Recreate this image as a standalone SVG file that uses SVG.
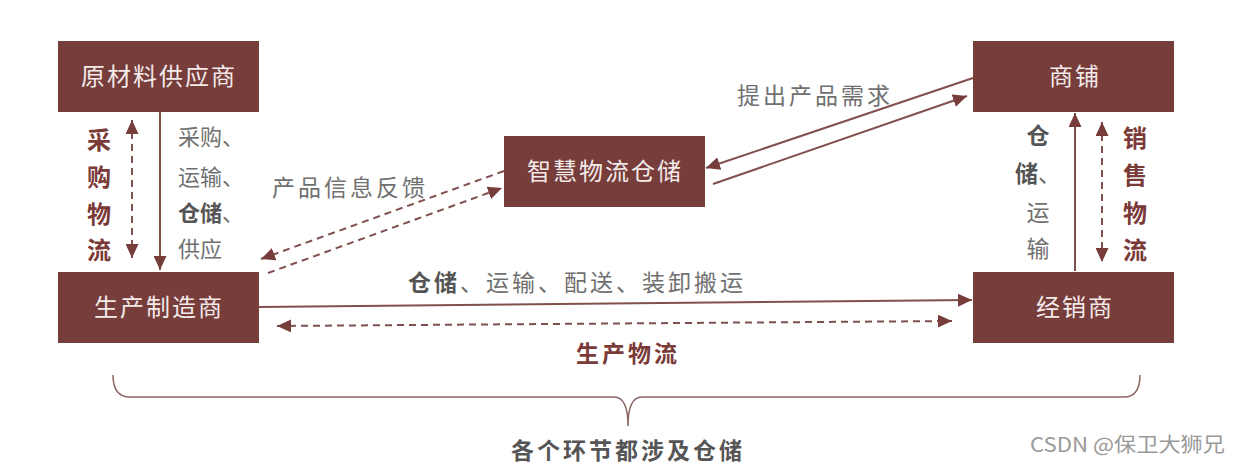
<svg xmlns="http://www.w3.org/2000/svg" width="1240" height="464" viewBox="0 0 1240 464">
<style>
text{font-family:"Noto Sans CJK SC","Noto Sans",sans-serif;}
.box{fill:#763d3a;}
.bt{fill:#f3eaea;font-size:24px;letter-spacing:2px;text-anchor:middle;}
.g{fill:#707070;font-size:23px;letter-spacing:3px;}
.gb{fill:#555;font-weight:bold;}
.red{fill:#7a3a37;font-weight:bold;font-size:24px;}
.ln{stroke:#80504d;stroke-width:2;fill:none;}
.ds{stroke-dasharray:7 5;}
</style>
<defs>
<marker id="ah" markerUnits="userSpaceOnUse" markerWidth="15" markerHeight="13" refX="14" refY="6.5" orient="auto-start-reverse">
<path d="M0,0 L14,6.5 L0,13 z" fill="#763d3a"/>
</marker>
</defs>
<rect width="1240" height="464" fill="#ffffff"/>
<g id="connectors">
<path class="ln" d="M160,112 L160,270" marker-end="url(#ah)"/>
<path class="ln ds" d="M132,120 L132,258" marker-start="url(#ah)" marker-end="url(#ah)"/>
<path class="ln ds" d="M504,171 L261,259" marker-end="url(#ah)"/>
<path class="ln ds" d="M268,273 L502,188" marker-end="url(#ah)"/>
<path class="ln" d="M973,78 L706,168" marker-end="url(#ah)"/>
<path class="ln" d="M713,184 L967,96" marker-end="url(#ah)"/>
<path class="ln" d="M1075,271 L1075,113" marker-end="url(#ah)"/>
<path class="ln ds" d="M1102,122 L1102,262" marker-start="url(#ah)" marker-end="url(#ah)"/>
<path class="ln" d="M259,307 L972,300" marker-end="url(#ah)"/>
<path class="ln ds" d="M277,326 L952,321" marker-start="url(#ah)" marker-end="url(#ah)"/>
<path d="M113,375 Q113,397 130,397 L614,397 Q628,397 628,426 Q628,397 642,397 L1124,397 Q1140,397 1140,375" fill="none" stroke="#8a6664" stroke-width="1.5"/>
</g>
<g id="n-raw">
<rect class="box" x="58" y="41" width="201" height="71"/>
<text class="bt" x="159" y="85">原材料供应商</text>
</g>
<g id="n-maker">
<rect class="box" x="58" y="272" width="201" height="71"/>
<text class="bt" x="159" y="316">生产制造商</text>
</g>
<g id="n-smart">
<rect class="box" x="504" y="136" width="201" height="71"/>
<text class="bt" x="605" y="180">智慧物流仓储</text>
</g>
<g id="n-shop">
<rect class="box" x="973" y="41" width="201" height="71"/>
<text class="bt" x="1075" y="85">商铺</text>
</g>
<g id="n-dealer">
<rect class="box" x="973" y="272" width="201" height="71"/>
<text class="bt" x="1075" y="316">经销商</text>
</g>
<g id="labels">
<text class="red" text-anchor="middle"><tspan x="99" y="149">采</tspan><tspan x="99" y="186">购</tspan><tspan x="99" y="223">物</tspan><tspan x="99" y="259">流</tspan></text>
<text class="g" style="font-size:22px;letter-spacing:0"><tspan x="178" y="145">采购、</tspan><tspan x="178" y="185">运输、</tspan><tspan x="178" y="221"><tspan class="gb">仓储</tspan>、</tspan><tspan x="178" y="257">供应</tspan></text>
<text class="g" x="272" y="196">产品信息反馈</text>
<text class="g" x="737" y="104">提出产品需求</text>
<text class="g" x="408" y="291"><tspan class="gb">仓储</tspan>、运输、配送、装卸搬运</text>
<text class="red" x="576" y="362" style="font-size:23px;letter-spacing:3px">生产物流</text>
<text style="font-size:23px;fill:#707070" text-anchor="middle"><tspan x="1038" y="144" class="gb">仓</tspan><tspan x="1038" y="182" class="gb">储</tspan><tspan>、</tspan><tspan x="1038" y="221">运</tspan><tspan x="1038" y="257">输</tspan></text>
<text class="red" text-anchor="middle"><tspan x="1135" y="147">销</tspan><tspan x="1135" y="184">售</tspan><tspan x="1135" y="222">物</tspan><tspan x="1135" y="259">流</tspan></text>
<text x="511" y="459" style="font-size:23px;letter-spacing:3px;fill:#555;font-weight:bold">各个环节都涉及仓储</text>
<text x="1030" y="452" textLength="195" lengthAdjust="spacingAndGlyphs" style="font-size:20px;fill:#9a9a9a">CSDN @保卫大狮兄</text>
</g>
</svg>
